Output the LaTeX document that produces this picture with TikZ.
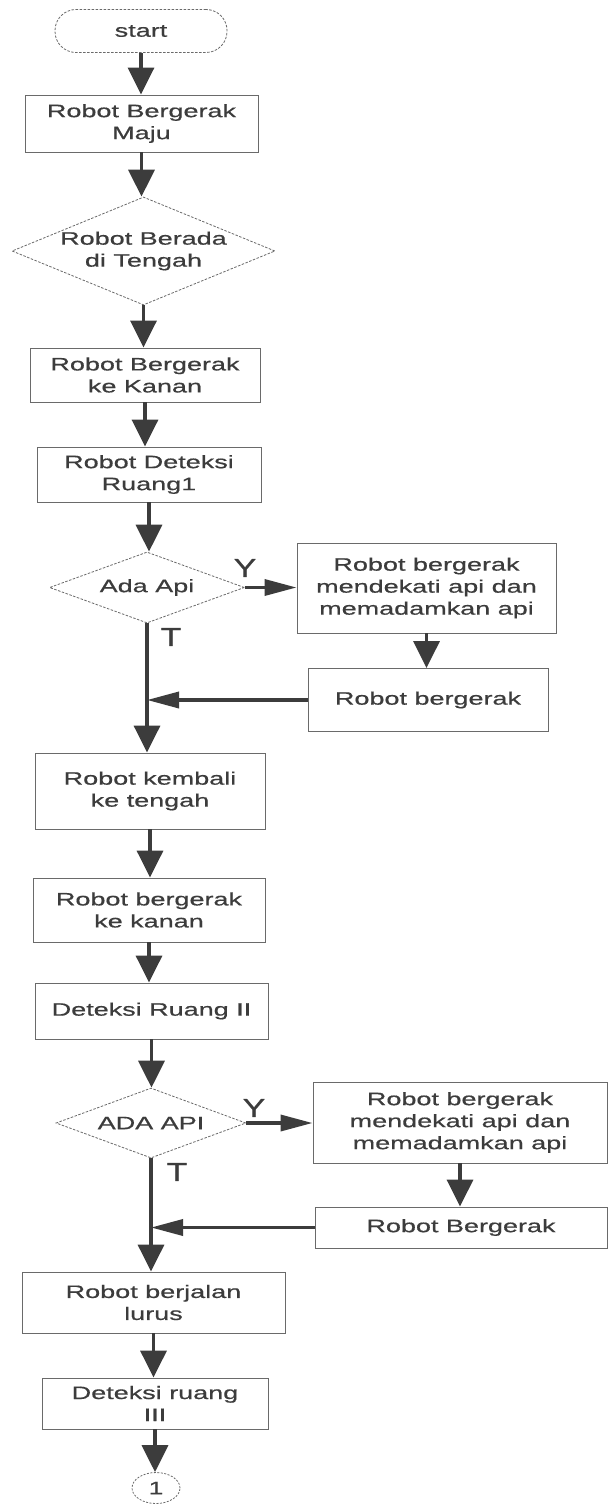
\documentclass[tikz,border=0pt]{standalone}
\usepackage{fontspec}
\setmainfont{Liberation Sans}[FakeStretch=1.5,FakeBold=0.6]
\newfontfamily\lblfont{Liberation Sans}[FakeStretch=1.3,FakeBold=0.6]
\usetikzlibrary{shapes.geometric,arrows.meta}
\definecolor{ink}{HTML}{3C3C3C}
\definecolor{edge}{HTML}{6A6A6A}
\begin{document}
\begin{tikzpicture}[x=1pt,y=-1pt,
  txt/.style={font=\fontsize{18}{22}\selectfont, text=ink, align=center, inner sep=0pt},
  proc/.style={draw=edge, line width=0.9pt, rectangle, txt},
  dia/.style={draw=edge, line width=0.8pt, dash pattern=on 2.5pt off 1.5pt, diamond, inner sep=0pt},
  term/.style={draw=edge, line width=0.8pt, dash pattern=on 2.5pt off 1.5pt, rectangle, rounded corners=21pt, txt},
  conn/.style={draw=edge, line width=0.8pt, dash pattern=on 2pt off 1.5pt, ellipse, txt},
  varr/.style={draw=ink, line width=3.5pt, -{Triangle[length=27pt,width=26pt]}},
  harr/.style={draw=ink, line width=3.5pt, -{Triangle[length=32pt,width=16pt]}},
  lbl/.style={font=\lblfont\fontsize{26}{28}\selectfont, text=ink, inner sep=0pt}
]
\useasboundingbox[fill=white] (0,0) rectangle (609,1506);

% nodes
\node[term, minimum width=172pt, minimum height=43pt] (start) at (141,31) {start};
\node[proc, minimum width=233pt, minimum height=57pt] (b1) at (141.5,123.5) {Robot Bergerak\\Maju};
\node[dia, minimum width=263pt, minimum height=108pt] (d1) at (143.5,251) {};
\node[txt] (d1t) at (d1.center) {Robot Berada\\di Tengah};
\node[proc, minimum width=230pt, minimum height=54pt] (b2) at (145,375) {Robot Bergerak\\ke Kanan};
\node[proc, minimum width=224pt, minimum height=55pt] (b3) at (149,474.5) {Robot Deteksi\\Ruang1};
\node[dia, minimum width=195pt, minimum height=71pt] (d2) at (147,587.5) {};
\node[txt] (d2t) at (d2.center) {Ada Api};
\node[proc, minimum width=259pt, minimum height=90pt] (b4) at (426.5,588) {Robot bergerak\\mendekati api dan\\memadamkan api};
\node[proc, minimum width=240pt, minimum height=63pt] (b5) at (428,700) {Robot bergerak};
\node[proc, minimum width=230pt, minimum height=76pt] (b6) at (150,791) {Robot kembali\\ke tengah};
\node[proc, minimum width=232pt, minimum height=64pt] (b7) at (149,910) {Robot bergerak\\ke kanan};
\node[proc, minimum width=233pt, minimum height=56pt] (b8) at (151.5,1011) {Deteksi Ruang II};
\node[dia, minimum width=190pt, minimum height=70pt] (d3) at (151,1123) {};
\node[txt] (d3t) at (d3.center) {ADA API};
\node[proc, minimum width=294pt, minimum height=81pt] (b9) at (460,1122.5) {Robot bergerak\\mendekati api dan\\memadamkan api};
\node[proc, minimum width=292pt, minimum height=41pt] (b10) at (461,1227.5) {Robot Bergerak};
\node[proc, minimum width=263pt, minimum height=61pt] (b11) at (153.5,1302.5) {Robot berjalan\\lurus};
\node[proc, minimum width=226pt, minimum height=51pt] (b12) at (155,1403.5) {Deteksi ruang\\III};
\node[conn, minimum width=48pt, minimum height=31pt] (c1) at (156,1488) {1};

% labels
\node[lbl] (y1) at (245,568) {Y};
\node[lbl] (t1) at (171,637) {T};
\node[lbl] (y2) at (254,1108) {Y};
\node[lbl] (t2) at (177,1172) {T};

% connectors
\draw[varr] (start.south) -- (start.south |- b1.north);
\draw[varr] (b1.south) -- (b1.south |- d1.north);
\draw[varr] (d1.south) -- (d1.south |- b2.north);
\draw[varr] (b2.south) -- (b2.south |- b3.north);
\draw[varr] (b3.south) -- (b3.south |- d2.north);
\draw[harr] (d2.east) -- (d2.east -| b4.west);
\draw[varr] (b4.south) -- (b4.south |- b5.north);
\draw[harr] (b5.west) -- (b5.west -| d2.south);
\draw[varr] (d2.south) -- (d2.south |- b6.north);
\draw[varr] (b6.south) -- (b6.south |- b7.north);
\draw[varr] (b7.south) -- (b7.south |- b8.north);
\draw[varr] (b8.south) -- (b8.south |- d3.north);
\draw[harr] (d3.east) -- (d3.east -| b9.west);
\draw[varr] (b9.south) -- (b9.south |- b10.north);
\draw[harr] (b10.west) -- (b10.west -| d3.south);
\draw[varr] (d3.south) -- (d3.south |- b11.north);
\draw[varr] (b11.south) -- (b11.south |- b12.north);
\draw[varr] (b12.south) -- (b12.south |- c1.north);
\end{tikzpicture}
\end{document}
